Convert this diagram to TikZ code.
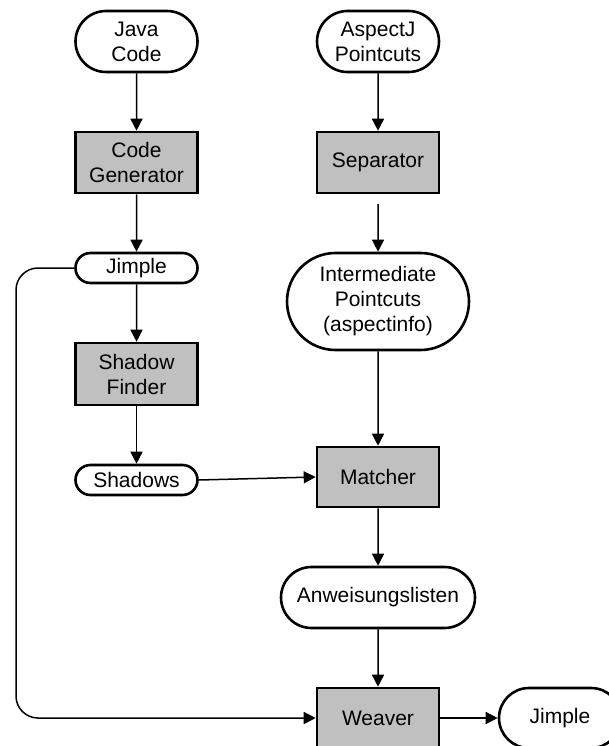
\documentclass[tikz,border=0pt]{standalone}
\usepackage{fontspec}
\setmainfont{Liberation Sans}
\usetikzlibrary{arrows.meta,shapes.misc}
\definecolor{boxgray}{HTML}{C0C0C0}
\tikzset{
  base/.style={draw=black, line width=2.6pt, align=center, inner sep=0pt,
    font=\fontsize{21}{25}\selectfont, text=black},
  proc/.style={base, rectangle, fill=boxgray, minimum width=122pt, minimum height=61pt},
  pill/.style={base, rounded rectangle, fill=white, minimum width=122pt, minimum height=#1},
  pill/.default=61pt,
  conn/.style={line width=1.5pt, -{Triangle[length=12pt,width=12pt]}},
}
\begin{document}
\begin{tikzpicture}[x=1pt,y=-1pt]
\useasboundingbox (0,0) rectangle (609,746);
\clip (0,0) rectangle (609,746);
\node[pill] (java) at (136.5,41.5) {Java\\Code};
\node[proc] (codegen) at (136.5,162.5) {Code\\Generator};
\node[pill=30pt] (jimple1) at (136.5,268) {Jimple};
\node[proc, minimum height=62pt] (shadowfinder) at (136.5,374) {Shadow\\Finder};
\node[pill=30pt] (shadows) at (136.5,480) {Shadows};
\node[pill] (aspectj) at (378,41.5) {AspectJ\\Pointcuts};
\node[proc] (separator) at (378,162.5) {Separator};
\node[pill=97pt, minimum width=182pt] (inter) at (378,301.5) {Intermediate\\Pointcuts\\(aspectinfo)};
\node[proc, minimum height=60pt] (matcher) at (378,477) {Matcher};
\node[pill, minimum width=194pt] (anw) at (378,597.5) {Anweisungslisten};
\node[proc, minimum height=60pt] (weaver) at (378,718) {Weaver};
\node[pill=60pt] (jimple2) at (560,718) {Jimple};
\coordinate (sepout) at (378,204);
\coordinate (loopx) at (16,0);

\draw[conn] (java) -- (codegen);
\draw[conn] (codegen) -- (jimple1);
\draw[conn] (jimple1) -- (shadowfinder);
\draw[conn] (shadowfinder) -- (shadows);
\draw[conn] (aspectj) -- (separator);
\draw[conn] (sepout) -- (inter);
\draw[conn] (inter) -- (matcher);
\draw[conn] (shadows.east) -- (matcher.west);
\draw[conn] (matcher) -- (anw);
\draw[conn] (anw) -- (weaver);
\draw[conn] (weaver) -- (jimple2);
\draw[conn, rounded corners=22pt] (jimple1.west) -| (loopx |- weaver.west) -- (weaver.west);
\end{tikzpicture}
\end{document}
